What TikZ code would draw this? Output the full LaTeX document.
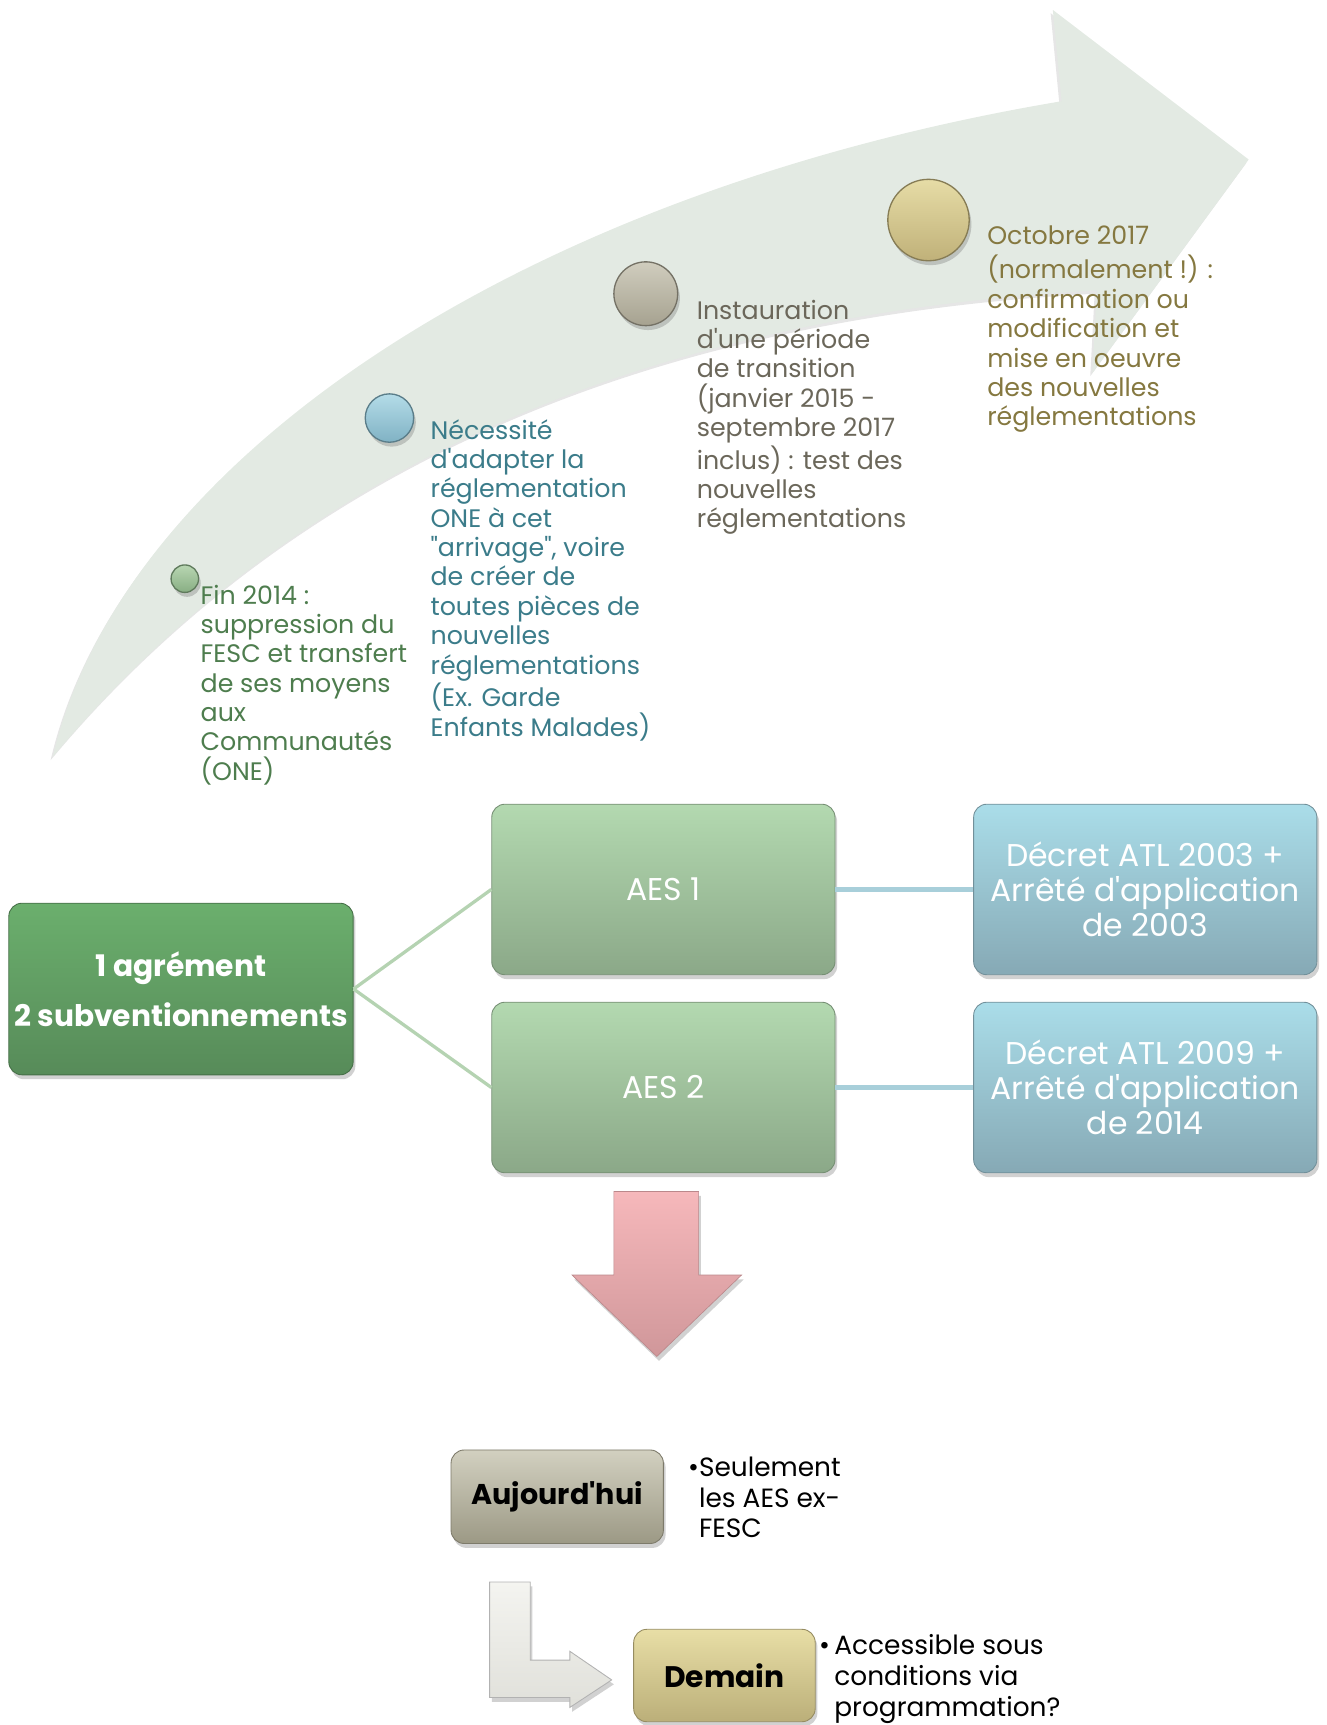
\documentclass[tikz,border=0pt]{standalone}
\usepackage{fontspec}
\setmainfont{Poppins}[Ligatures=TeXOff]
\usetikzlibrary{shadows}
\definecolor{arrowfill}{HTML}{E3EAE3}
\definecolor{tGreen}{HTML}{4E7D4E}
\definecolor{tBlue}{HTML}{3B7C8A}
\definecolor{tGray}{HTML}{6B675A}
\definecolor{tGold}{HTML}{857840}
\definecolor{mainTop}{HTML}{6BAF6D}
\definecolor{mainBot}{HTML}{578B59}
\definecolor{aesTop}{HTML}{B3D9B0}
\definecolor{aesBot}{HTML}{8BA888}
\definecolor{decTop}{HTML}{AADDE9}
\definecolor{decBot}{HTML}{86A9B5}
\definecolor{aujTop}{HTML}{D2D0C0}
\definecolor{aujBot}{HTML}{9C9985}
\definecolor{demTop}{HTML}{E8DEA6}
\definecolor{demBot}{HTML}{BBAF79}
\definecolor{pinkTop}{HTML}{F6B8BB}
\definecolor{pinkBot}{HTML}{D0979A}
\definecolor{lTop}{HTML}{F4F4F0}
\definecolor{lBot}{HTML}{E0E0DA}
\definecolor{lineGreen}{HTML}{B5D3B2}
\definecolor{lineBlue}{HTML}{A8CFDA}
\definecolor{gbTop}{HTML}{B8D6B2}
\definecolor{gbBot}{HTML}{88AE83}
\definecolor{bbTop}{HTML}{B4DCE8}
\definecolor{bbBot}{HTML}{80B2C4}
\definecolor{ybTop}{HTML}{D0CDBE}
\definecolor{ybBot}{HTML}{A6A290}
\definecolor{obTop}{HTML}{E6DCA6}
\definecolor{obBot}{HTML}{C0B179}
\tikzset{
  softshadow/.style={drop shadow={shadow xshift=1pt,shadow yshift=-2pt,opacity=.3,fill=black!60}},
  ball/.style={circle,inner sep=0pt,softshadow,line width=.6pt},
  tltext/.style={anchor=north west,inner sep=0pt,align=left,font=\fontsize{11.5}{13.35}\selectfont},
  box/.style={rounded corners=6pt,inner sep=2pt,softshadow,line width=.4pt,align=center,
     minimum width=156pt,minimum height=77.5pt},
  boxtxt/.style={text=white,font=\fontsize{14.3}{16}\selectfont},
  smallbox/.style={rounded corners=6pt,inner sep=2pt,softshadow,line width=.4pt,align=center},
  bultext/.style={anchor=north west,inner sep=0pt,align=left,font=\fontsize{12}{14}\selectfont},
  link/.style={line width=1.5pt,draw=lineGreen},
  linkb/.style={line width=2.5pt,draw=lineBlue}
}
\begin{document}
\begin{tikzpicture}[x=0.5pt,y=-0.5pt]
\useasboundingbox (0,0) rectangle (1206,1568);

% big curved arrow
\path[fill=arrowfill,drop shadow={shadow xshift=-1pt,shadow yshift=-1.5pt,opacity=.2,fill=black!50}]
  (48,688) .. controls (110,420) and (470,175) .. (965,92)
  -- (957,9) -- (1135,145) -- (993,339) -- (997,264)
  .. controls (520,290) and (230,470) .. (48,688)
  -- cycle;

% balls
\node[ball,minimum size=12.5pt,top color=gbTop,bottom color=gbBot,draw=gbBot!70!black] (b1) at (168,526) {};
\node[ball,minimum size=22pt,top color=bbTop,bottom color=bbBot,draw=bbBot!70!black] (b2) at (354,380) {};
\node[ball,minimum size=29pt,top color=ybTop,bottom color=ybBot,draw=ybBot!70!black] (b3) at (587,267) {};
\node[ball,minimum size=37pt,top color=obTop,bottom color=obBot,draw=obBot!70!black] (b4) at (844,200) {};

% timeline texts
\node[tltext,text=tGreen] (t1) at (182,530) {\strut Fin 2014 :\\suppression du\\FESC et transfert\\de ses moyens\\aux\\Communautés\\(ONE)};
\node[tltext,text=tBlue] (t2) at (391,380) {\strut Nécessité\\d'adapter la\\réglementation\\ONE à cet\\"arrivage", voire\\de créer de\\toutes pièces de\\nouvelles\\réglementations\\(Ex. Garde\\Enfants Malades)};
\node[tltext,text=tGray] (t3) at (633,271) {\strut Instauration\\d'une période\\de transition\\(janvier 2015 -\\septembre 2017\\inclus) : test des\\nouvelles\\réglementations};
\node[tltext,text=tGold] (t4) at (897,203) {\strut Octobre 2017\\(normalement !) :\\confirmation ou\\modification et\\mise en oeuvre\\des nouvelles\\réglementations};

% boxes
\node[box,minimum width=156.5pt,minimum height=78pt,top color=mainTop,bottom color=mainBot,draw=mainBot!80!black,
      text=white,font=\bfseries\fontsize{13.5}{22.5}\selectfont] (main) at (164.5,899) {1 agrément\\2 subventionnements};
\node[box,boxtxt,top color=aesTop,bottom color=aesBot,draw=aesBot!85!black] (aes1) at (603,808.5) {AES 1};
\node[box,boxtxt,top color=aesTop,bottom color=aesBot,draw=aesBot!85!black] (aes2) at (603,988.5) {AES 2};
\node[box,boxtxt,top color=decTop,bottom color=decBot,draw=decBot!85!black] (dec1) at (1041,808.5) {Décret ATL 2003 +\\Arrêté d'application\\de 2003};
\node[box,boxtxt,top color=decTop,bottom color=decBot,draw=decBot!85!black] (dec2) at (1041,988.5) {Décret ATL 2009 +\\Arrêté d'application\\de 2014};

\draw[link] (main.east) -- (aes1.west);
\draw[link] (main.east) -- (aes2.west);
\draw[linkb] (aes1.east) -- (dec1.west);
\draw[linkb] (aes2.east) -- (dec2.west);

% pink down arrow
\path[top color=pinkTop,bottom color=pinkBot,draw=pinkBot!90!black,line width=.3pt,softshadow]
  (558,1083) -- (635,1083) -- (635,1159) -- (674,1159) -- (597,1233) -- (520,1159) -- (558,1159) -- cycle;

% today / tomorrow
\node[smallbox,minimum width=96.5pt,minimum height=42.5pt,top color=aujTop,bottom color=aujBot,draw=aujBot!80!black,
      font=\bfseries\fontsize{13}{15}\selectfont] (auj) at (506.5,1360.5) {Aujourd'hui};
\node[bultext] (aujtxt) at (635,1322) {\strut\llap{\textbullet}Seulement\\les AES ex-\\FESC};

\path[top color=lTop,bottom color=lBot,draw=black!30,line width=.4pt,softshadow]
  (445,1438) -- (482,1438) -- (482,1509) -- (518,1509) -- (518,1501) -- (556,1527) -- (518,1552) -- (518,1543) -- (445,1543) -- cycle;

\node[smallbox,minimum width=82.5pt,minimum height=42pt,top color=demTop,bottom color=demBot,draw=demBot!80!black,
      font=\bfseries\fontsize{13.5}{15}\selectfont] (dem) at (658.5,1523) {Demain};
\node[bultext] (demtxt) at (758,1484) {\strut\llap{\textbullet\,}Accessible sous\\conditions via\\programmation?};
\end{tikzpicture}
\end{document}
